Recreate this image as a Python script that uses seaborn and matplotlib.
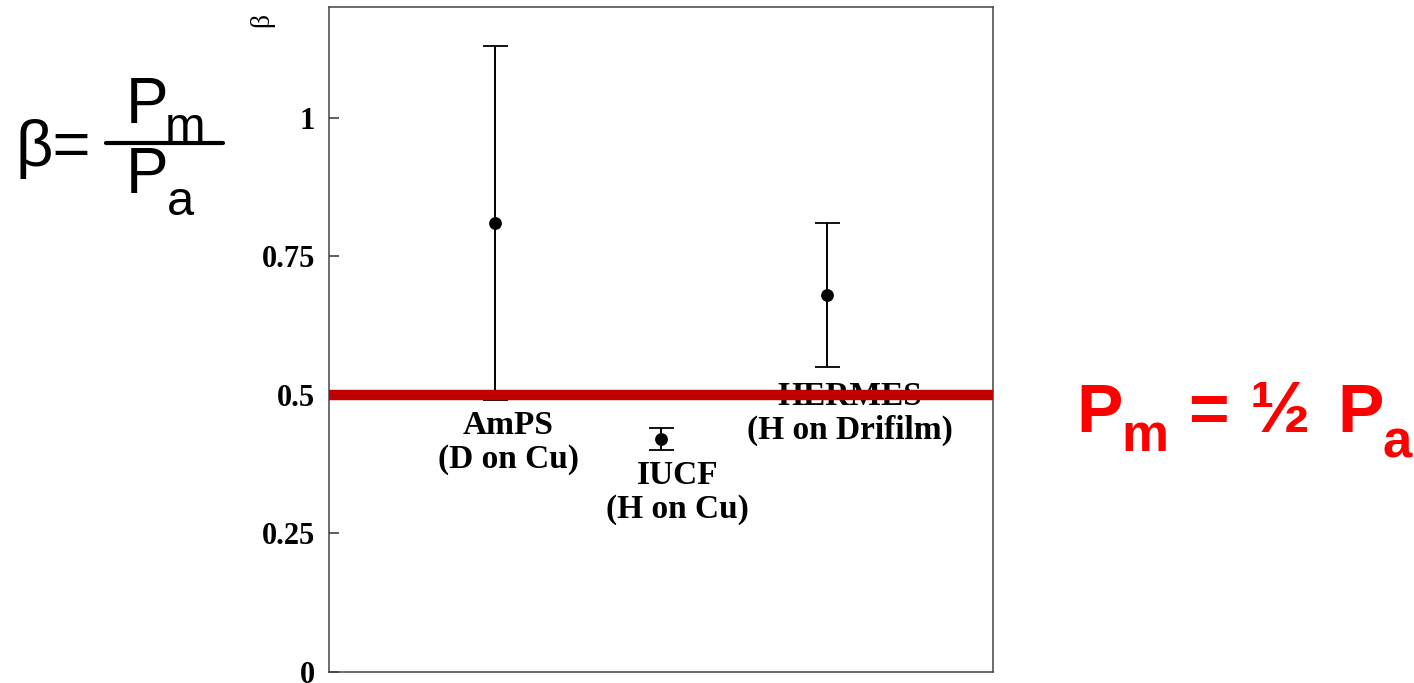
import matplotlib
matplotlib.use("Agg")
import matplotlib.pyplot as plt
import seaborn as sns
import pandas as pd
from matplotlib.lines import Line2D

# ---- data ----
experiments = ["AmPS\n(D on Cu)", "IUCF\n(H on Cu)", "HERMES\n(H on Drifilm)"]
beta = [0.81, 0.42, 0.68]
beta_upper = [1.13, 0.44, 0.81]
beta_lower = [0.49, 0.40, 0.55]
y_ticks = [0, 0.25, 0.5, 0.75, 1]
y_tick_labels = ["0", "0.25", "0.5", "0.75", "1"]
reference_level = 0.5

df = pd.DataFrame({"experiment": experiments, "beta": beta,
                   "upper": beta_upper, "lower": beta_lower})
df["pos"] = range(1, len(df) + 1)

W, H = 1414, 683
sns.set_theme(style="white")
plt.rcParams["font.family"] = ["Liberation Serif", "DejaVu Sans"]
plt.rcParams["text.color"] = "black"
plt.rcParams["axes.labelcolor"] = "black"

fig = plt.figure(figsize=(W / 100, H / 100), dpi=100)
ax = fig.add_axes([329 / W, 1 - 672 / H, (993 - 329) / W, (672 - 7) / H])

# error bars
ax.errorbar(df["pos"], df["beta"],
            yerr=[df["beta"] - df["lower"], df["upper"] - df["beta"]],
            fmt="none", ecolor="black", elinewidth=1.4, capsize=9, capthick=1.3, zorder=2)
sns.scatterplot(data=df, x="pos", y="beta", ax=ax, color="black", s=85,
                edgecolor="black", linewidth=0, zorder=3, legend=False)

# reference line
ax.axhline(reference_level, color="#C00000", lw=7.5, zorder=4, solid_capstyle="butt")

# experiment labels
label_pos = [(1.08, 0.472), (2.10, 0.382), (3.14, 0.525)]
for txt, (lx, ly) in zip(df["experiment"], label_pos):
    ax.text(lx, ly, txt, ha="center", va="top", fontsize=24, fontweight="bold",
            family="Liberation Serif", linespacing=1.1, color="black", zorder=3)

ax.set_xlim(0, 4)
ax.set_ylim(0, 1.2)
ax.set_xticks([])
ax.set_yticks(y_ticks)
ax.set_yticklabels(y_tick_labels, fontsize=22, fontweight="bold", family="Liberation Serif")
ax.tick_params(axis="y", direction="in", length=7, width=1.1, pad=10, left=True,
               colors="#333333", labelcolor="black")
ax.set_xlabel("")
ax.set_ylabel("")
for s in ax.spines.values():
    s.set_color("#444444")
    s.set_linewidth(1.1)

# beta axis title (rotated, at top)
fig.text(262 / W, 1 - 20 / H, "β", rotation=90, ha="center", va="center",
         fontsize=20, family="Liberation Serif", color="black")

# ---- left formula ----
def fx(px):
    return px / W

def fy(py):
    return 1 - py / H

sans = "Liberation Sans"
fig.text(fx(16), fy(166), "β=", fontsize=47, family=sans, ha="left", va="baseline", color="black")
fig.text(fx(126), fy(123), "P", fontsize=46, family=sans, ha="left", va="baseline", color="black")
fig.text(fx(165), fy(141), "m", fontsize=35, family=sans, ha="left", va="baseline", color="black")
fig.text(fx(126), fy(193), "P", fontsize=46, family=sans, ha="left", va="baseline", color="black")
fig.text(fx(167), fy(215), "a", fontsize=35, family=sans, ha="left", va="baseline", color="black")
fig.add_artist(Line2D([fx(106), fx(223)], [fy(143), fy(143)], color="black",
                      lw=3, transform=fig.transFigure))

# ---- right red annotation ----
red = "#FF0000"
pieces = [("P", 1076, 432, 50), ("m", 1121, 451, 38), ("=", 1188, 432, 50),
          ("½", 1250, 432, 52), ("P", 1337, 432, 50), ("a", 1383, 458, 38)]
for t, px, py, fs in pieces:
    fig.text(fx(px), fy(py), t, fontsize=fs, fontweight="bold", family=sans,
             color=red, ha="left", va="baseline")

fig.savefig("out.png", dpi=100, facecolor="white")
